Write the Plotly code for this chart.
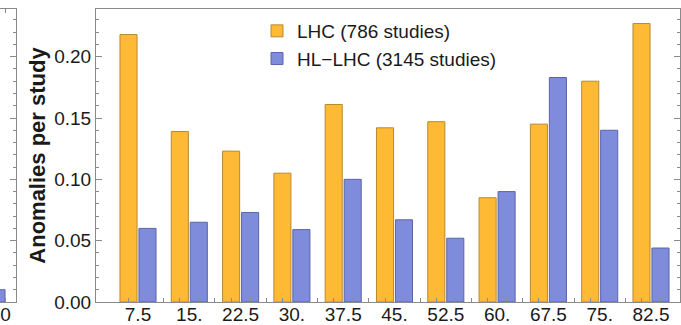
import plotly.graph_objects as go

# Anomalies per study, binned; two collider scenarios
bin_centers = [7.5, 15, 22.5, 30, 37.5, 45, 52.5, 60, 67.5, 75, 82.5]
bin_labels = ["7.5", "15.", "22.5", "30.", "37.5", "45.", "52.5", "60.", "67.5", "75.", "82.5"]
lhc_values = [0.218, 0.139, 0.123, 0.105, 0.161, 0.142, 0.147, 0.085, 0.145, 0.180, 0.227]
hllhc_values = [0.060, 0.065, 0.073, 0.059, 0.100, 0.067, 0.052, 0.090, 0.183, 0.140, 0.044]

# neighbouring panel (only its last bin is in view)
side_center = [-0.58]
side_hllhc = [0.010]
side_label_pos = [0.8]
side_labels = ["0"]

lhc_name = "LHC (786 studies)"
hllhc_name = "HL\u2212LHC (3145 studies)"

ORANGE, ORANGE_EDGE = "#FEB935", "#B98A30"
BLUE, BLUE_EDGE = "#7F8CDB", "#5B64A8"
FRAME = "#8a8a8a"
TEXT = "#1a1a1a"
FONT = "Liberation Sans"

W, H = 681, 325
ML, MR, MT, MB = 0, 1, 9, 23
plot_w = W - ML - MR
main_left = 96
bin_step = bin_centers[1] - bin_centers[0]
px_per_unit = 51.3 / bin_step
x_lo = bin_centers[0] - (138 - main_left) / px_per_unit
x_hi = x_lo + (plot_w - main_left) / px_per_unit
y_hi = (H - MT - MB) / 1226.7

bargap = 0.26
slot = bin_step * (1 - bargap) / 2
bar_mids = [c - slot / 2 for c in bin_centers] + [c + slot / 2 for c in bin_centers]
boundaries = [c + bin_step / 2 for c in bin_centers[:-1]]
minor_x = sorted(bar_mids + boundaries)

fig = go.Figure()
fig.add_trace(go.Bar(x=bin_centers, y=lhc_values, name=lhc_name,
                     marker=dict(color=ORANGE, line=dict(color=ORANGE_EDGE, width=1))))
fig.add_trace(go.Bar(x=bin_centers, y=hllhc_values, name=hllhc_name,
                     marker=dict(color=BLUE, line=dict(color=BLUE_EDGE, width=1))))
fig.add_trace(go.Bar(x=side_center, y=side_hllhc, xaxis="x3", yaxis="y3",
                     width=slot * 0.95, showlegend=False,
                     marker=dict(color=BLUE, line=dict(color=BLUE_EDGE, width=1))))

axis_font = dict(family=FONT, size=19, color=TEXT)

fig.update_layout(
    width=W, height=H,
    margin=dict(l=ML, r=MR, t=MT, b=MB, pad=0),
    paper_bgcolor="white", plot_bgcolor="white",
    barmode="group", bargap=bargap, bargroupgap=0.1,
    font=dict(family=FONT, color=TEXT),
    xaxis=dict(
        domain=[main_left / plot_w, 1], range=[x_lo, x_hi],
        tickmode="array", tickvals=bin_centers, ticktext=bin_labels,
        ticks="", tickfont=axis_font, automargin=False, ticklabelstandoff=-5,
        showline=True, linecolor=FRAME, linewidth=1, mirror=True,
        showgrid=False, zeroline=False,
        minor=dict(tickmode="array", tickvals=minor_x, ticks="inside",
                   ticklen=4, tickcolor=FRAME, showgrid=False),
    ),
    yaxis=dict(
        range=[0, y_hi], tickmode="linear", tick0=0, dtick=0.05, tickformat=".2f",
        ticks="inside", ticklen=6, tickcolor=FRAME, tickfont=axis_font,
        showline=True, linecolor=FRAME, linewidth=1, mirror="ticks",
        showgrid=False, zeroline=False,
        minor=dict(dtick=0.01, ticks="inside", ticklen=3, tickcolor=FRAME, showgrid=False),
        title=dict(text="Anomalies per study", standoff=2,
                   font=dict(family=FONT, size=22, color=TEXT, weight="bold")),
        automargin=False,
    ),
    xaxis3=dict(
        domain=[0, 16 / plot_w], range=[0, 16 / px_per_unit], anchor="y3",
        tickmode="array", tickvals=side_label_pos, ticktext=side_labels,
        ticks="inside", ticklen=4, tickcolor=FRAME, tickfont=axis_font,
        ticklabelstandoff=-5, ticklabeloverflow="allow",
        showline=True, linecolor=FRAME, linewidth=1, mirror="ticks",
        showgrid=False, zeroline=False, automargin=False,
    ),
    yaxis3=dict(
        anchor="x3", side="right", range=[0, y_hi],
        tickmode="linear", tick0=0, dtick=0.05, ticks="inside", ticklen=6,
        tickcolor=FRAME, showticklabels=False,
        showline=True, linecolor=FRAME, linewidth=1,
        showgrid=False, zeroline=False, automargin=False,
        minor=dict(dtick=0.01, ticks="inside", ticklen=3, tickcolor=FRAME, showgrid=False),
    ),
    legend=dict(
        x=(297 - 40) / plot_w, xanchor="left",
        y=1 - (12 - MT) / (H - MT - MB), yanchor="top",
        bgcolor="rgba(0,0,0,0)", borderwidth=0,
        font=dict(family=FONT, size=19, color=TEXT),
        itemwidth=30, tracegroupgap=0,
    ),
)

fig.write_html("out.html")
